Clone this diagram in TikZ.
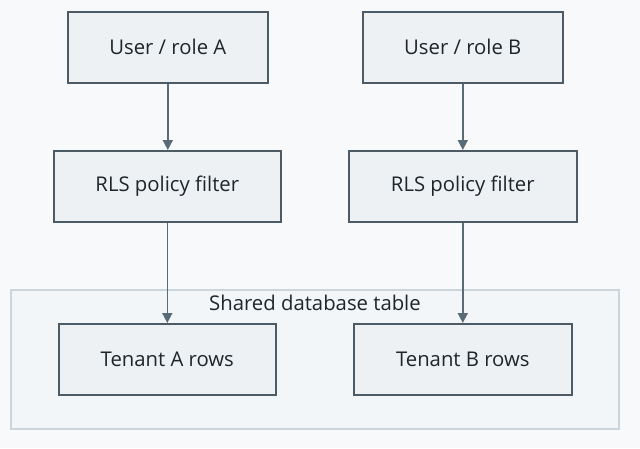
\documentclass[tikz,border=0pt]{standalone}
\usepackage{fontspec}
\setmainfont{Open Sans}
\usetikzlibrary{positioning,arrows.meta}
\definecolor{bgc}{HTML}{F8F9FA}
\definecolor{boxfill}{HTML}{EEF1F4}
\definecolor{boxline}{HTML}{4D5B66}
\definecolor{arrowc}{HTML}{5A6B78}
\definecolor{grpfill}{HTML}{F3F6F8}
\definecolor{grpline}{HTML}{CBD6DC}
\definecolor{txt}{HTML}{1E252B}
\tikzset{
  box/.style={draw=boxline,fill=boxfill,line width=1.6pt,text=txt,font=\fontsize{20.3}{24}\selectfont,anchor=north west},
  flow/.style={draw=arrowc,line width=1.6pt,-{Triangle[length=10pt,width=10pt]}}
}
\begin{document}
\begin{tikzpicture}[x=1pt,y=-1pt]
\fill[bgc] (0,0) rectangle (640,448);
\useasboundingbox (0,0) rectangle (640,448);

% shared table group
\draw[grpline,fill=grpfill,line width=1.6pt] (11,290) rectangle (619,429);
\node[text=txt,font=\fontsize{20.3}{24}\selectfont] (grp) at (315,303) {Shared database table};

\node[box,minimum width=200,minimum height=71] (ua) at (67,11) {User / role A};
\node[box,minimum width=200,minimum height=71] (ub) at (362,11) {User / role B};
\node[box,minimum width=227,minimum height=71] (pa) at (53,150) {RLS policy filter};
\node[box,minimum width=228,minimum height=71] (pb) at (348,150) {RLS policy filter};
\node[box,minimum width=217,minimum height=71] (ta) at (58,323) {Tenant A rows};
\node[box,minimum width=218,minimum height=71] (tb) at (353,323) {Tenant B rows};

\draw[flow] (ua) -- (ua |- pa.north);
\draw[flow] (ub) -- (ub |- pb.north);
\draw[flow] (pa.south -| ta) -- (ta);
\draw[flow] (pb.south -| tb) -- (tb);
\end{tikzpicture}
\end{document}
